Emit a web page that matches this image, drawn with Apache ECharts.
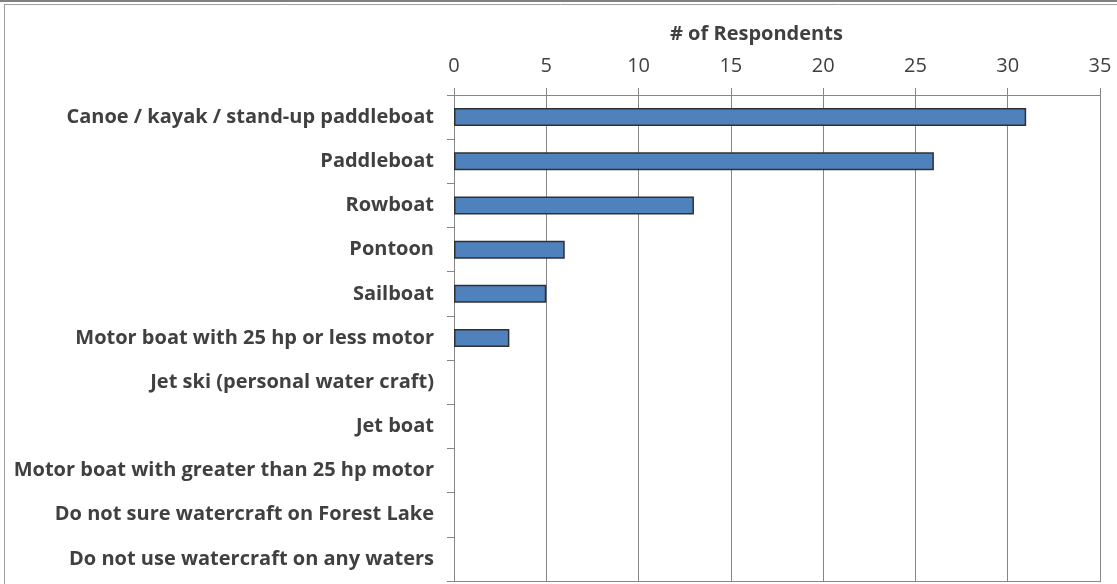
<!DOCTYPE html>
<html>
<head>
<meta charset="utf-8">
<script src="https://cdn.jsdelivr.net/npm/echarts@6/dist/echarts.min.js"></script>
<style>
html,body{margin:0;padding:0;background:#fff;}
#chart{width:1117px;height:584px;}
</style>
</head>
<body>
<div id="chart"></div>
<script>
const categories = [
  "Canoe / kayak / stand-up paddleboat",
  "Paddleboat",
  "Rowboat",
  "Pontoon",
  "Sailboat",
  "Motor boat with 25 hp or less motor",
  "Jet ski (personal water craft)",
  "Jet boat",
  "Motor boat with greater than 25 hp motor",
  "Do not sure watercraft on Forest Lake",
  "Do not use watercraft on any waters"
];
const respondents = [31, 26, 13, 6, 5, 3, 0, 0, 0, 0, 0];
const axisTitle = "# of Respondents";

const chart = echarts.init(document.getElementById('chart'), null, {renderer: 'canvas'});
const FONT = 'Open Sans';
const TXT = '#404040';
const LINE = '#868686';
chart.setOption({
  animation: false,
  backgroundColor: '#ffffff',
  grid: {left: 454, right: 17, top: 95, bottom: 3, containLabel: false},
  graphic: [
    {type: 'rect', shape: {x: 0, y: 0, width: 1117, height: 2}, style: {fill: '#808080'}, silent: true},
    {type: 'line', shape: {x1: 4, y1: 4.5, x2: 1117, y2: 4.5}, style: {stroke: '#a0a0a0', lineWidth: 1}, silent: true},
    {type: 'line', shape: {x1: 4.5, y1: 4, x2: 4.5, y2: 584}, style: {stroke: '#a0a0a0', lineWidth: 1}, silent: true},
    {type: 'line', shape: {x1: 447, y1: 581.5, x2: 1101, y2: 581.5}, style: {stroke: LINE, lineWidth: 1}, silent: true},
    {type: 'text', x: 670, y: 34, style: {text: axisTitle, font: 'bold 20px "' + FONT + '"', fill: TXT, verticalAlign: 'middle'}, silent: true}
  ],
  xAxis: {
    type: 'value', position: 'top', min: 0, max: 35, interval: 5,
    axisLine: {show: true, lineStyle: {color: LINE, width: 1}},
    axisTick: {show: true, inside: false, length: 7, lineStyle: {color: LINE}},
    splitLine: {show: true, lineStyle: {color: LINE, width: 1}},
    axisLabel: {color: TXT, fontFamily: FONT, fontSize: 20, margin: 19}
  },
  yAxis: {
    type: 'category', data: categories, inverse: true,
    axisLine: {show: true, lineStyle: {color: LINE, width: 1}},
    axisTick: {show: true, inside: false, length: 7, lineStyle: {color: LINE}},
    axisLabel: {color: TXT, fontFamily: FONT, fontWeight: 'bold', fontSize: 20, margin: 20}
  },
  series: [{
    type: 'bar',
    data: respondents.map(v => v === 0 ? {value: v, itemStyle: {borderWidth: 0}} : v),
    barWidth: 18,
    itemStyle: {color: '#4f81bd', borderColor: '#303030', borderWidth: 1.5}
  }]
});
</script>
</body>
</html>
